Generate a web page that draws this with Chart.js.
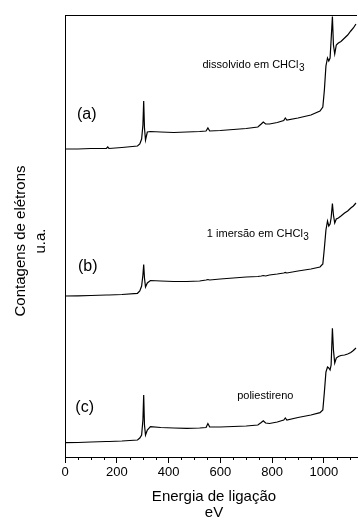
<!DOCTYPE html>
<html>
<head>
<meta charset="utf-8">
<script src="https://cdn.jsdelivr.net/npm/chart.js@4.4.1/dist/chart.umd.min.js"></script>
<style>
    html, body { margin: 0; padding: 0; background: #fff; }
    canvas { display: block; }
</style>
</head>
<body>
<canvas id="xpsChart" width="358" height="521"></canvas>
<script>
// binding energy grid (eV), shared by the three survey spectra
const energies = [0, 50, 100, 160, 165, 170, 220, 280, 289, 296,
    301, 304, 307, 311, 318, 330, 370, 420, 470, 520,
    545, 552, 559, 600, 650, 700, 745, 758, 766, 775,
    790, 820, 845, 851, 857, 900, 950, 985, 996, 1002,
    1008, 1014, 1019, 1024, 1028, 1033, 1037, 1042, 1048, 1056,
    1066, 1080, 1092, 1104, 1114, 1124];

// counts (a.u., stacked offsets included)
const countsA = [308, 308, 308.5, 308.5, 310, 308.5, 309.5, 311, 313, 318,
    332, 356, 329, 317, 325, 325.5, 325, 324.5, 325, 325.5,
    326, 329, 326, 326.5, 327.5, 328.5, 330, 333, 335, 333,
    333, 334.5, 336.5, 339, 337, 339, 342, 346, 350, 367,
    391, 399, 396, 399, 417, 440.5, 412, 403, 412, 414,
    415.5, 419, 422, 426, 429, 433];
const countsB = [161, 161.2, 161.5, 162, 162, 162, 162.5, 163.7, 166, 171,
    182, 192.5, 179, 170, 174, 176.5, 176, 175.5, 175.5, 176,
    177, 177.5, 177, 178, 179, 180, 180.5, 181, 181.5, 181,
    182, 183, 184, 184.5, 184, 186, 188, 190, 193, 209,
    227, 236, 231, 233, 239, 253.5, 242, 234, 238, 239,
    241, 244, 246, 249, 251, 254];
const countsC = [14.3, 14.5, 15, 15.5, 15.5, 15.5, 16, 17, 19, 22,
    37, 62, 32, 22, 27, 30.3, 29.5, 29, 28.7, 29,
    29.5, 33.5, 30, 30, 30.5, 31, 32, 34.5, 36.3, 34,
    33.5, 35, 37, 39, 37, 39.5, 42, 44.3, 47, 65,
    85, 90, 89, 87, 92, 128.7, 107, 94, 99, 100.5,
    101.5, 102, 103, 104.5, 106.5, 109];

const xMax = 1128;
const yMax = 442;
const majorStep = 200;
const minorStep = 50;

const panelLabels = ['(a)', '(b)', '(c)'];
const sampleNotes = ['dissolvido em CHCl', '1 imersão em CHCl', 'poliestireno'];
const noteSubs = ['3', '3', ''];

const FONT = '"Liberation Sans", Arial, sans-serif';

function toPoints(vals) {
    return energies.map((e, i) => ({ x: e, y: vals[i] }));
}

// titles, panel tags, sample notes, minor ticks and the top frame line
const decorations = {
    id: 'decorations',
    afterDraw(chart) {
        const ctx = chart.ctx;
        const area = chart.chartArea;
        const xs = chart.scales.x;
        const ys = chart.scales.y;
        ctx.save();
        ctx.fillStyle = '#000';
        ctx.strokeStyle = '#000';
        ctx.lineWidth = 1;

        // top frame line
        ctx.beginPath();
        ctx.moveTo(area.left, Math.round(area.top) + 0.5);
        ctx.lineTo(area.right, Math.round(area.top) + 0.5);
        ctx.stroke();

        // minor ticks
        ctx.beginPath();
        for (let v = minorStep; v <= xMax; v += minorStep) {
            if (v % majorStep === 0) continue;
            const px = Math.round(xs.getPixelForValue(v)) + 0.5;
            ctx.moveTo(px, area.bottom);
            ctx.lineTo(px, area.bottom + 3);
        }
        ctx.stroke();

        // y title, two lines
        ctx.save();
        ctx.translate(25, 241);
        ctx.rotate(-Math.PI / 2);
        ctx.font = '15px ' + FONT;
        ctx.textAlign = 'center';
        ctx.textBaseline = 'alphabetic';
        ctx.fillText('Contagens de elétrons', 0, 0);
        ctx.fillText('u.a.', 0, 20);
        ctx.restore();

        // x title, two lines
        ctx.font = '15px ' + FONT;
        ctx.textAlign = 'center';
        ctx.textBaseline = 'alphabetic';
        ctx.fillText('Energia de ligação', 214, 501);
        ctx.fillText('eV', 214, 517);

        // panel tags
        const tagPos = [[84, 342], [88, 190.5], [76, 49.5]];
        ctx.font = '16px ' + FONT;
        ctx.textBaseline = 'middle';
        panelLabels.forEach((t, i) => {
            ctx.fillText(t, xs.getPixelForValue(tagPos[i][0]), ys.getPixelForValue(tagPos[i][1]));
        });

        // sample notes with subscript
        const notePos = [[531, 389], [548, 220.5], [665, 58]];
        ctx.textAlign = 'left';
        ctx.textBaseline = 'alphabetic';
        sampleNotes.forEach((t, i) => {
            const px = xs.getPixelForValue(notePos[i][0]);
            const py = ys.getPixelForValue(notePos[i][1]);
            ctx.font = '11px ' + FONT;
            ctx.fillText(t, px, py);
            if (noteSubs[i]) {
                const w = ctx.measureText(t).width;
                ctx.font = '10px ' + FONT;
                ctx.fillText(noteSubs[i], px + w + 0.5, py + 3);
            }
        });
        ctx.restore();
    }
};

const lineStyle = {
    borderColor: '#000',
    borderWidth: 1.2,
    pointRadius: 0,
    tension: 0,
    fill: false
};

new Chart(document.getElementById('xpsChart').getContext('2d'), {
    type: 'line',
    data: {
        datasets: [
            Object.assign({ label: panelLabels[0], data: toPoints(countsA) }, lineStyle),
            Object.assign({ label: panelLabels[1], data: toPoints(countsB) }, lineStyle),
            Object.assign({ label: panelLabels[2], data: toPoints(countsC) }, lineStyle)
        ]
    },
    options: {
        responsive: false,
        animation: false,
        devicePixelRatio: 1,
        layout: { padding: { top: 15, right: 1, left: 0, bottom: 0 } },
        plugins: {
            legend: { display: false },
            tooltip: { enabled: false }
        },
        scales: {
            x: {
                type: 'linear',
                min: 0,
                max: xMax,
                afterFit: (scale) => { scale.height = 64; },
                border: { display: true, color: '#000', width: 1 },
                grid: { drawOnChartArea: false, drawTicks: true, tickLength: 6, tickColor: '#000' },
                ticks: {
                    stepSize: majorStep,
                    includeBounds: false,
                    autoSkip: false,
                    maxRotation: 0,
                    padding: 2,
                    color: '#000',
                    font: { family: FONT, size: 13 },
                    callback: (v) => String(v)
                }
            },
            y: {
                type: 'linear',
                min: 0,
                max: yMax,
                afterFit: (scale) => { scale.width = 65; },
                border: { display: true, color: '#000', width: 1 },
                grid: { display: false },
                ticks: { display: false }
            }
        }
    },
    plugins: [decorations]
});
</script>
</body>
</html>
